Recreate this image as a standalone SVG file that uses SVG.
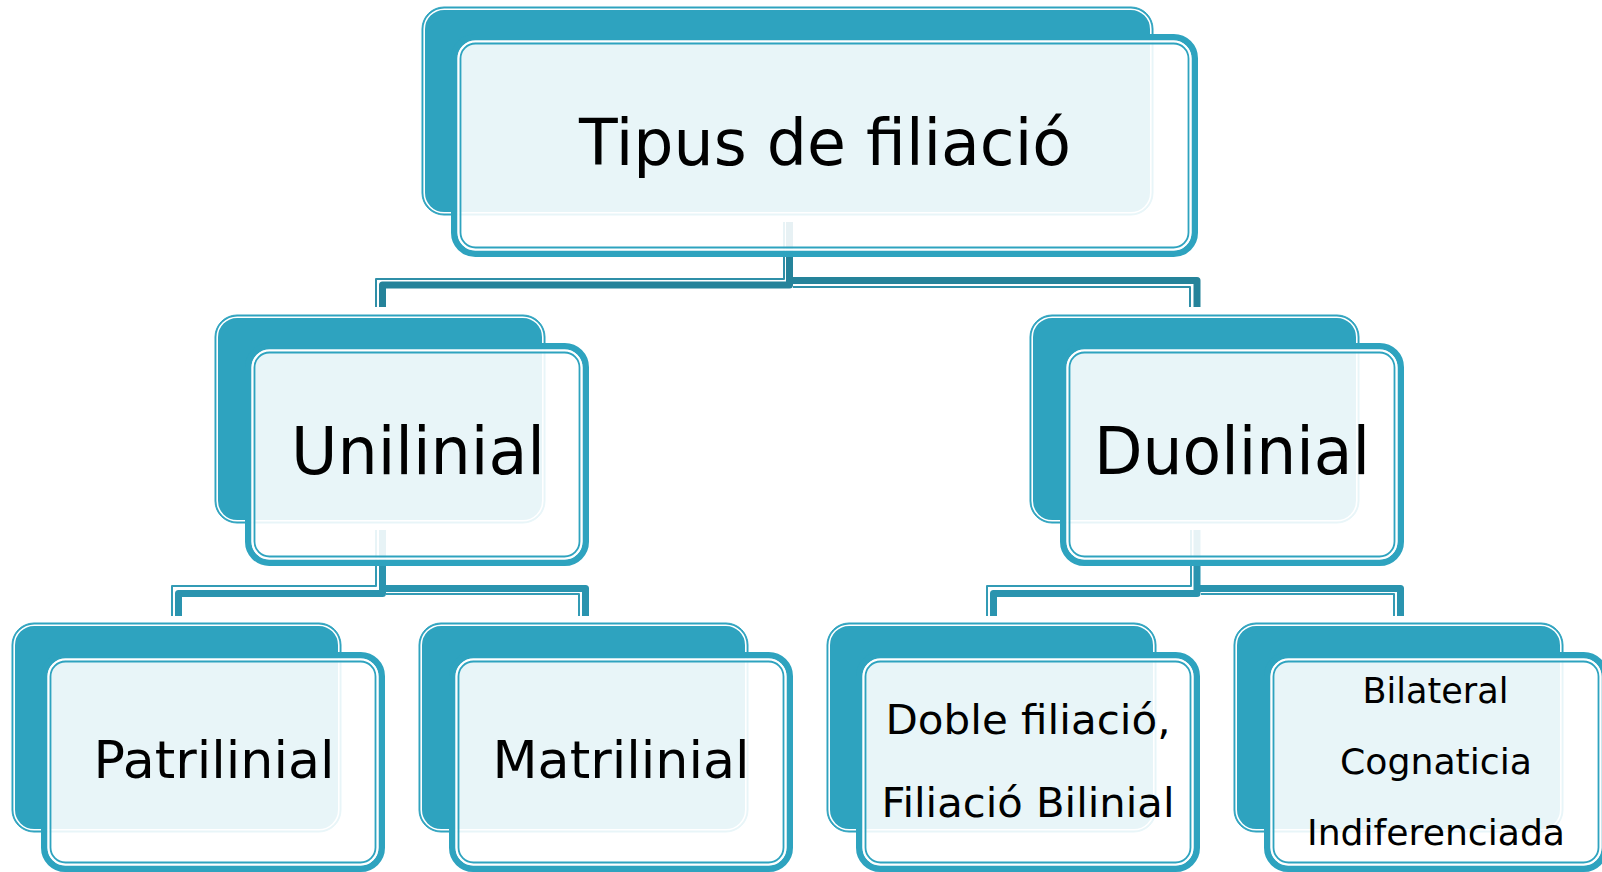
<svg xmlns="http://www.w3.org/2000/svg" width="1602" height="872" viewBox="0 0 1602 872">
<style>
.back{fill:#2EA3BF;stroke:#2EA3BF;stroke-width:1}
.bl{fill:none;stroke:#ffffff;stroke-width:1.6}
.front{fill:#ffffff;fill-opacity:0.89;stroke:#2EA3BF;stroke-width:6.5}
.f1{fill:none;stroke:#ffffff;stroke-width:2}
.f2{fill:none;stroke:#2EA3BF;stroke-width:1.8}
.ck{fill:none;stroke:#25839A;stroke-width:7;stroke-linejoin:round}
.cn{fill:none;stroke:#2F8FA8;stroke-width:2;stroke-linejoin:round}
.lk{fill:none;stroke:#2A94AF;stroke-width:7;stroke-linejoin:round}
.ln{fill:none;stroke:#339BB5;stroke-width:2;stroke-linejoin:round}
text{font-family:"DejaVu Sans","Liberation Sans",sans-serif;fill:#000;text-anchor:middle}
</style>
<g id="connectors">
  <path class="ck" d="M789.5,222 V285 H382.5 V307"/>
  <path class="cn" d="M784,222 V279 H376 V307"/>
  <path class="ck" d="M789.5,280.5 H1197 V307"/>
  <path class="cn" d="M793,287 H1190 V307"/>

  <path class="lk" d="M382.5,530 V593.5 H178.5 V616"/>
  <path class="ln" d="M376,530 V586 H172 V616"/>
  <path class="lk" d="M382.5,588.5 H585.5 V616"/>
  <path class="ln" d="M386,594 H579 V616"/>

  <path class="lk" d="M1197,530 V593.5 H993.5 V616"/>
  <path class="ln" d="M1191,530 V586 H987 V616"/>
  <path class="lk" d="M1197,588.5 H1400.5 V616"/>
  <path class="ln" d="M1201,594 H1394 V616"/>
</g>

<g id="node-tipus">
  <rect class="back" x="422" y="7" width="731" height="208" rx="22"/>
  <rect class="bl" x="424.2" y="9.2" width="726.6" height="203.6" rx="20"/>
  <rect class="front" x="454.25" y="37.25" width="740.5" height="216.5" rx="21"/>
  <rect class="f1" x="458.5" y="41.5" width="732" height="208" rx="17"/>
  <rect class="f2" x="460.5" y="43.5" width="728" height="204" rx="15"/>
  <text x="825" y="165" font-size="64" textLength="492" lengthAdjust="spacingAndGlyphs">Tipus de filiació</text>
</g>

<g id="node-unilinial">
  <rect class="back" x="215" y="315" width="330" height="208" rx="22"/>
  <rect class="bl" x="217.2" y="317.2" width="325.6" height="203.6" rx="20"/>
  <rect class="front" x="248.25" y="346.25" width="337.5" height="216.5" rx="21"/>
  <rect class="f1" x="252.5" y="350.5" width="329" height="208" rx="17"/>
  <rect class="f2" x="254.5" y="352.5" width="325" height="204" rx="15"/>
  <text x="418" y="474" font-size="66" textLength="254" lengthAdjust="spacingAndGlyphs">Unilinial</text>
</g>

<g id="node-duolinial">
  <rect class="back" x="1030" y="315" width="329" height="208" rx="22"/>
  <rect class="bl" x="1032.2" y="317.2" width="324.6" height="203.6" rx="20"/>
  <rect class="front" x="1063.25" y="346.25" width="337.5" height="216.5" rx="21"/>
  <rect class="f1" x="1067.5" y="350.5" width="329" height="208" rx="17"/>
  <rect class="f2" x="1069.5" y="352.5" width="325" height="204" rx="15"/>
  <text x="1232" y="474" font-size="66" textLength="276" lengthAdjust="spacingAndGlyphs">Duolinial</text>
</g>

<g id="node-patrilinial">
  <rect class="back" x="12" y="623" width="329" height="209" rx="22"/>
  <rect class="bl" x="14.2" y="625.2" width="324.6" height="204.6" rx="20"/>
  <rect class="front" x="44.25" y="655.25" width="337.5" height="213.5" rx="21"/>
  <rect class="f1" x="48.5" y="659.5" width="329" height="205" rx="17"/>
  <rect class="f2" x="50.5" y="661.5" width="325" height="201" rx="15"/>
  <text x="214" y="778" font-size="52" textLength="241" lengthAdjust="spacingAndGlyphs">Patrilinial</text>
</g>

<g id="node-matrilinial">
  <rect class="back" x="419" y="623" width="329" height="209" rx="22"/>
  <rect class="bl" x="421.2" y="625.2" width="324.6" height="204.6" rx="20"/>
  <rect class="front" x="452.25" y="655.25" width="337.5" height="213.5" rx="21"/>
  <rect class="f1" x="456.5" y="659.5" width="329" height="205" rx="17"/>
  <rect class="f2" x="458.5" y="661.5" width="325" height="201" rx="15"/>
  <text x="621" y="778" font-size="52" textLength="257" lengthAdjust="spacingAndGlyphs">Matrilinial</text>
</g>

<g id="node-doble">
  <rect class="back" x="827" y="623" width="329" height="209" rx="22"/>
  <rect class="bl" x="829.2" y="625.2" width="324.6" height="204.6" rx="20"/>
  <rect class="front" x="859.25" y="655.25" width="337.5" height="213.5" rx="21"/>
  <rect class="f1" x="863.5" y="659.5" width="329" height="205" rx="17"/>
  <rect class="f2" x="865.5" y="661.5" width="325" height="201" rx="15"/>
  <text x="1028" y="734" font-size="41" textLength="285" lengthAdjust="spacingAndGlyphs">Doble filiació,</text>
  <text x="1028" y="817" font-size="41" textLength="293" lengthAdjust="spacingAndGlyphs">Filiació Bilinial</text>
</g>

<g id="node-bilateral">
  <rect class="back" x="1234" y="623" width="329" height="209" rx="22"/>
  <rect class="bl" x="1236.2" y="625.2" width="324.6" height="204.6" rx="20"/>
  <rect class="front" x="1267.25" y="655.25" width="337.5" height="213.5" rx="21"/>
  <rect class="f1" x="1271.5" y="659.5" width="329" height="205" rx="17"/>
  <rect class="f2" x="1273.5" y="661.5" width="325" height="201" rx="15"/>
  <text x="1435.5" y="703" font-size="36" textLength="146" lengthAdjust="spacingAndGlyphs">Bilateral</text>
  <text x="1436" y="774" font-size="36" textLength="192" lengthAdjust="spacingAndGlyphs">Cognaticia</text>
  <text x="1436" y="845" font-size="36" textLength="258" lengthAdjust="spacingAndGlyphs">Indiferenciada</text>
</g>
</svg>
